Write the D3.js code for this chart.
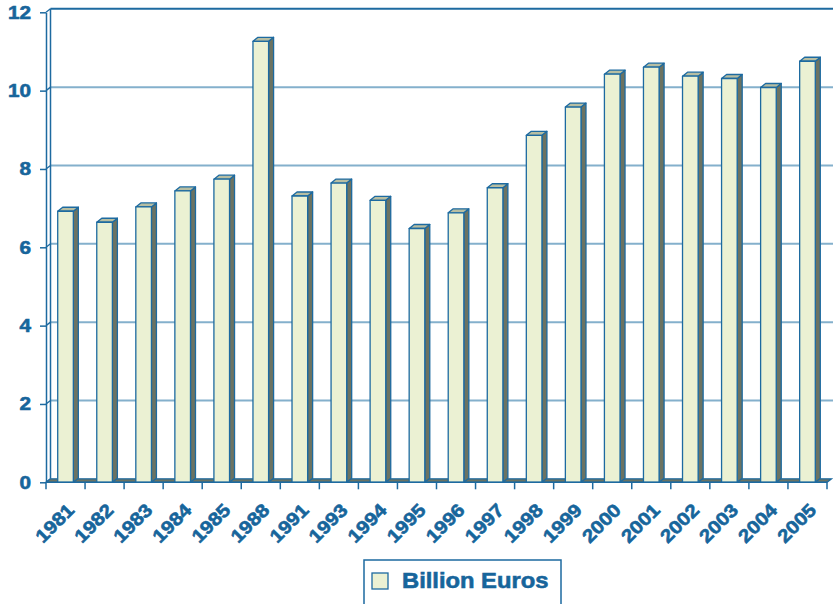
<!DOCTYPE html>
<html><head><meta charset="utf-8">
<script src="https://cdn.jsdelivr.net/npm/d3@7"></script>
<style>body{margin:0;background:#fff}svg{display:block}</style>
</head><body><svg id="c" width="833" height="604"></svg>
<script>
const years = ["1981","1982","1983","1984","1985","1988","1991","1993","1994","1995","1996","1997","1998","1999","2000","2001","2002","2003","2004","2005"];
const values = [6.92,6.64,7.03,7.44,7.74,11.26,7.31,7.64,7.20,6.48,6.88,7.52,8.86,9.58,10.42,10.60,10.37,10.31,10.08,10.75];
const yTicks = [0,2,4,6,8,10,12];
const seriesName = "Billion Euros";

const blue = "#1d6aa0", grid = "#84b0cc", textC = "#17659b";
const front = "#ebf1d3", side = "#6c7362", topC = "#b7bea2";
const svg = d3.select("#c");
const x = d3.scaleBand().domain(years).range([46, 827]).paddingInner(0.6).paddingOuter(0.3);
const y = d3.scaleLinear().domain([0, 12]).range([482.3, 12.3]);
const wdx = 4.5, wdy = 3.5;   // wall depth
const bdx = 5, bdy = 4;       // bar depth
const x0 = 46, x1 = 827;
const FONT = "Liberation Sans, Arial, Helvetica, sans-serif";

// gridlines on back wall
svg.append("g").selectAll("line").data(yTicks.filter(d => d > 0)).join("line")
  .attr("x1", x0 + wdx).attr("x2", 833)
  .attr("y1", d => y(d) - wdy).attr("y2", d => y(d) - wdy)
  .attr("stroke", d => d === 12 ? blue : grid).attr("stroke-width", 2);
// left wall diagonals
svg.append("g").selectAll("line").data(yTicks).join("line")
  .attr("x1", x0).attr("x2", x0 + wdx)
  .attr("y1", d => y(d)).attr("y2", d => y(d) - wdy)
  .attr("stroke", blue).attr("stroke-width", 1.3);
svg.append("line").attr("x1", x0 + wdx).attr("x2", x0 + wdx)
  .attr("y1", y(0) - wdy).attr("y2", y(12) - wdy).attr("stroke", blue).attr("stroke-width", 1.5);

// floor
svg.append("polygon")
  .attr("points", [[x0, y(0)], [x1, y(0)], [x1 + wdx, y(0) - wdy], [x0 + wdx, y(0) - wdy]].map(p => p.join(",")).join(" "))
  .attr("fill", side).attr("stroke", blue).attr("stroke-width", 1.3);

// bars
const bw = x.bandwidth();
const g = svg.append("g").attr("stroke", blue).attr("stroke-width", 1.3).attr("stroke-linejoin", "round");
years.forEach((yr, i) => {
  const bx = x(yr), yv = y(values[i]), y0 = y(0);
  g.append("polygon").attr("fill", side)
    .attr("points", [[bx + bw, yv], [bx + bw + bdx, yv - bdy], [bx + bw + bdx, y0 - bdy], [bx + bw, y0]].map(p => p.join(",")).join(" "));
  g.append("polygon").attr("fill", topC)
    .attr("points", [[bx, yv], [bx + bdx, yv - bdy], [bx + bw + bdx, yv - bdy], [bx + bw, yv]].map(p => p.join(",")).join(" "));
  g.append("rect").attr("fill", front).attr("x", bx).attr("y", yv).attr("width", bw).attr("height", y0 - yv);
});

// y axis (line + ticks via d3 axis, labels drawn with horizontal stretch)
const ya = svg.append("g").attr("transform", `translate(${x0},0)`)
  .call(d3.axisLeft(y).tickValues(yTicks).tickSize(6).tickFormat("").tickSizeOuter(0));
ya.select(".domain").attr("stroke", blue).attr("stroke-width", 1.5);
ya.selectAll(".tick line").attr("stroke", blue).attr("stroke-width", 1.5);
svg.append("g").selectAll("text").data(yTicks).join("text")
  .attr("transform", d => `translate(${x0 - 15},${y(d) + 6.5}) scale(1.15,1)`)
  .attr("text-anchor", "end").attr("fill", textC).attr("stroke", textC).attr("stroke-width", 0.6)
  .style("font-family", FONT).style("font-weight", "bold").style("font-size", "18px")
  .text(d => d);

// x axis line & ticks at category boundaries
svg.append("line").attr("x1", x0).attr("x2", x1).attr("y1", y(0)).attr("y2", y(0)).attr("stroke", blue).attr("stroke-width", 1.5);
const bounds = d3.range(years.length + 1).map(i => x0 + i * x.step());
svg.append("g").selectAll("line").data(bounds).join("line")
  .attr("x1", d => d).attr("x2", d => d).attr("y1", y(0)).attr("y2", y(0) + 7)
  .attr("stroke", blue).attr("stroke-width", 1.5);
svg.append("g").selectAll("text").data(years).join("text")
  .attr("transform", d => `translate(${x(d) + bw / 2 + 10},${y(0) + 29}) rotate(-45) scale(1.12,1)`)
  .attr("text-anchor", "end").attr("fill", textC).attr("stroke", textC).attr("stroke-width", 0.6)
  .style("font-family", FONT).style("font-weight", "bold").style("font-size", "18.5px")
  .text(d => d);

// legend
const lg = svg.append("g");
lg.append("rect").attr("x", 364).attr("y", 560).attr("width", 197).attr("height", 60)
  .attr("fill", "#fff").attr("stroke", blue).attr("stroke-width", 1.5);
lg.append("rect").attr("x", 372).attr("y", 573).attr("width", 16).attr("height", 16)
  .attr("fill", front).attr("stroke", blue).attr("stroke-width", 1.3);
lg.append("text").attr("transform", "translate(402,588) scale(1.08,1)").attr("fill", textC)
  .attr("stroke", textC).attr("stroke-width", 0.6)
  .style("font-family", FONT).style("font-weight", "bold").style("font-size", "22px")
  .text(seriesName);
</script></body></html>
